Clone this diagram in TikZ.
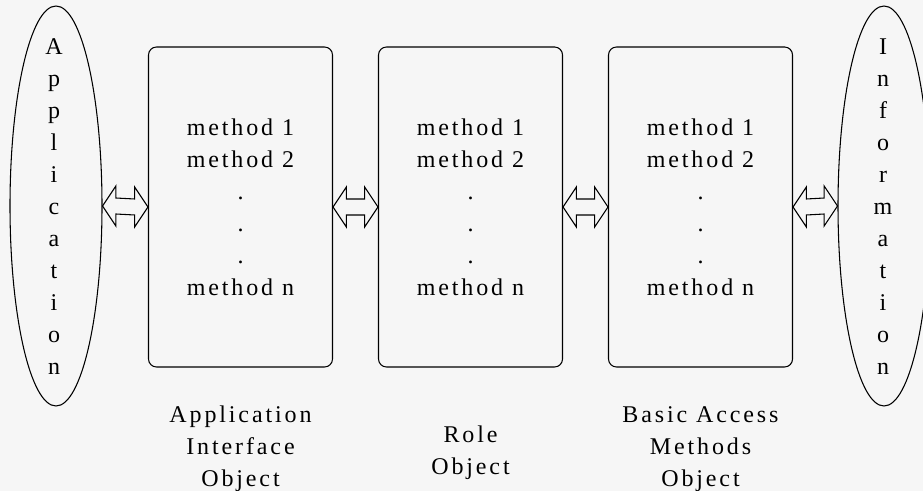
\documentclass[tikz,border=0pt]{standalone}
\usepackage{fontspec}
\setmainfont{Liberation Serif}[LetterSpace=12]
\usetikzlibrary{shapes.geometric,calc}
\definecolor{papel}{RGB}{246,246,246}
\tikzset{
  caja/.style={draw, rounded corners=6pt, minimum width=138pt, minimum height=240pt, align=center, inner sep=0pt},
  ovalo/.style={draw, ellipse, minimum width=69pt, minimum height=300pt, inner sep=0pt},
  letras/.style={align=center, inner sep=0pt},
  pie/.style={align=center, inner sep=0pt},
  flecha/.style={to path={let \p1=(\tikztostart), \p2=(\tikztotarget) in
    (\p1) -- (\x1+10pt,\y1+15pt) -- (\x1+10pt,\y1+6pt) -- (\x2-10pt,\y2+6pt) -- (\x2-10pt,\y2+15pt) -- (\p2)
    -- (\x2-10pt,\y2-15pt) -- (\x2-10pt,\y2-6pt) -- (\x1+10pt,\y1-6pt) -- (\x1+10pt,\y1-15pt) -- cycle}}
}
\begin{document}
\begin{tikzpicture}[x=0.75pt, y=-0.75pt, line width=0.8pt, font=\fontsize{18}{24}\selectfont]
\useasboundingbox (0,0) rectangle (923,491);
\fill[papel] (0,0) rectangle (923,491); % fondo

\node[ovalo] (appl) at (56,206) {}; % elipse izquierda
\node[ovalo] (info) at (884,206) {}; % elipse derecha
\node[letras] (appltxt) at (54,207) {A\\p\\p\\l\\i\\c\\a\\t\\i\\o\\n}; % texto izquierda
\node[letras] (infotxt) at (883,207) {I\\n\\f\\o\\r\\m\\a\\t\\i\\o\\n}; % texto derecha

\node[caja] (api) at (240.5,207) {method 1\\method 2\\.\\.\\.\\method n}; % caja 1
\node[caja] (role) at (470.5,207) {method 1\\method 2\\.\\.\\.\\method n}; % caja 2
\node[caja] (bam) at (700.5,207) {method 1\\method 2\\.\\.\\.\\method n}; % caja 3

\node[pie] (apilbl) at (240.5,449) {Application\\Interface\\Object}; % pie 1
\node[pie] (rolelbl) at (470.5,453) {Role\\Object}; % pie 2
\node[pie] (bamlbl) at (700.5,449) {Basic Access\\Methods\\Object}; % pie 3

\draw (appl.east) to[flecha] (api.west); % flecha 1
\draw (api.east) to[flecha] (role.west); % flecha 2
\draw (role.east) to[flecha] (bam.west); % flecha 3
\draw (bam.east) to[flecha] (info.west); % flecha 4
\end{tikzpicture}
\end{document}
